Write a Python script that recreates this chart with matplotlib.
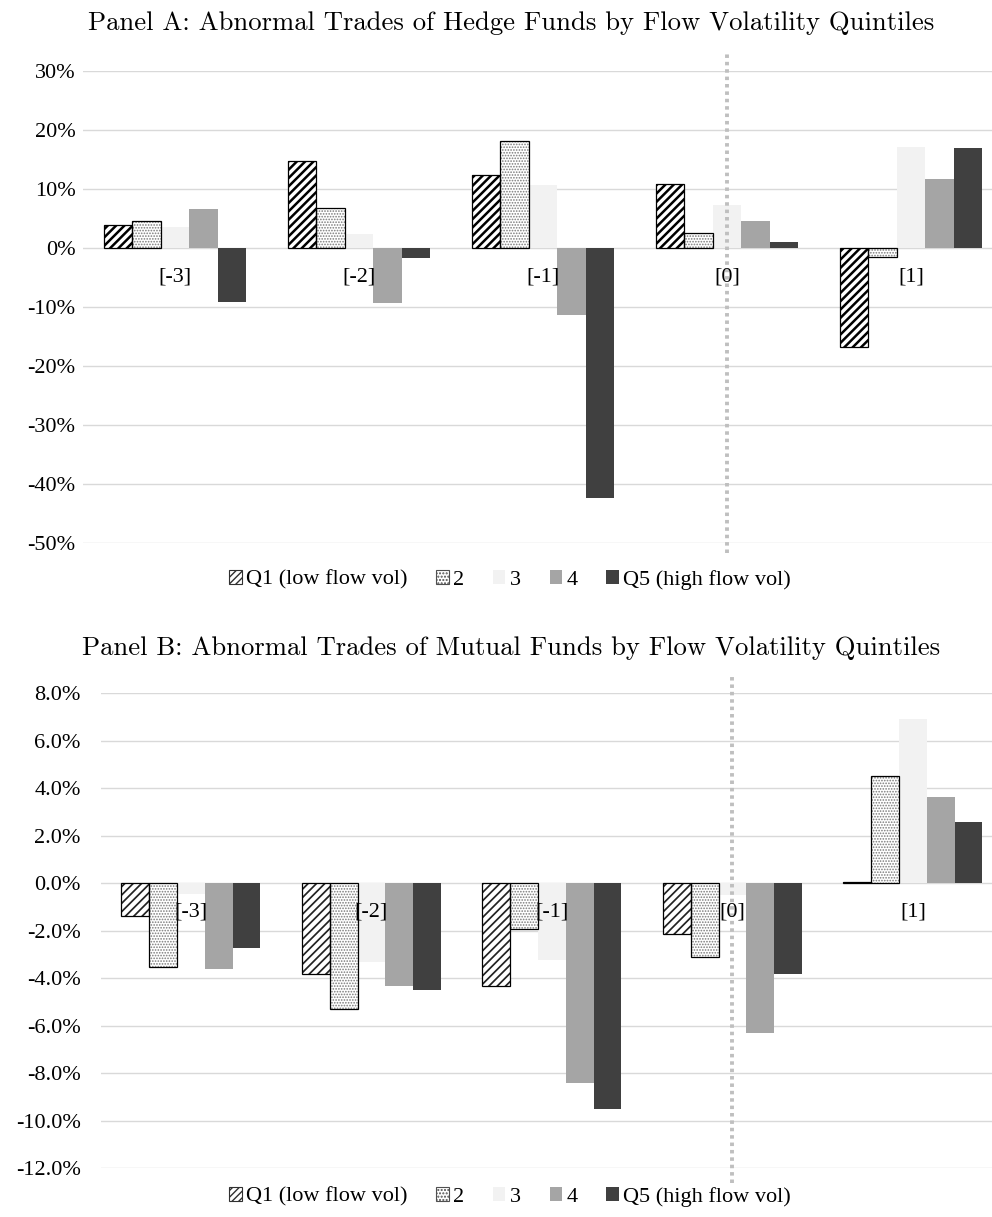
import numpy as np
import matplotlib
matplotlib.use('Agg')
import matplotlib.pyplot as plt
from matplotlib import ticker
from matplotlib.patches import Patch

# Categorias (trimestres em relação ao evento) e séries por quintil
categories = ['[-3]', '[-2]', '[-1]', '[0]', '[1]']
series_names = ['Q1 (low flow vol)', '2', '3', '4', 'Q5 (high flow vol)']

# Panel A: hedge funds (%)
hedge_q1 = [3.9, 14.7, 12.3, 10.8, -16.7]
hedge_q2 = [4.6, 6.7, 18.1, 2.5, -1.6]
hedge_q3 = [3.5, 2.4, 10.7, 7.2, 17.0]
hedge_q4 = [6.6, -9.4, -11.3, 4.5, 11.7]
hedge_q5 = [-9.2, -1.7, -42.3, 0.95, 16.9]

# Panel B: mutual funds (%)
mutual_q1 = [-1.36, -3.80, -4.31, -2.15, 0.04]
mutual_q2 = [-3.51, -5.28, -1.92, -3.10, 4.50]
mutual_q3 = [-0.46, -3.30, -3.24, -0.49, 6.90]
mutual_q4 = [-3.62, -4.31, -8.41, -6.30, 3.62]
mutual_q5 = [-2.74, -4.50, -9.52, -3.80, 2.57]

yticks_a = [30, 20, 10, 0, -10, -20, -30, -40, -50]
yticks_b = [8, 6, 4, 2, 0, -2, -4, -6, -8, -10, -12]

plt.rcParams['font.family'] = ['Liberation Serif', 'DejaVu Serif']

W, H = 992, 1217
fig = plt.figure(figsize=(W / 100, H / 100), dpi=100)


def draw_panel(ax, data, yticks, fmt, pad, vline, hatch_col, hatch_lw):
    x = np.arange(len(categories))
    bw = 0.154
    styles = [
        dict(facecolor='white', edgecolor=hatch_col, hatch='////'),
        dict(facecolor='white', edgecolor='#7a7a7a', hatch='......'),
        dict(facecolor='#f2f2f2', edgecolor='none'),
        dict(facecolor='#a5a5a5', edgecolor='none'),
        dict(facecolor='#404040', edgecolor='none'),
    ]
    for i, (vals, st) in enumerate(zip(data, styles)):
        pos = x + (i - 2) * bw
        b = ax.bar(pos, vals, width=bw, zorder=3, linewidth=0, **st)
        if st.get('hatch'):
            for p in b:
                if hasattr(p, 'set_hatch_linewidth'):
                    p.set_hatch_linewidth(hatch_lw if i == 0 else 0.8)
            # contorno preto por cima
            ax.bar(pos, vals, width=bw, facecolor='none', edgecolor='black',
                   linewidth=0.9, zorder=3.5)
    ax.set_ylim(yticks[-1], yticks[0])
    ax.set_yticks(yticks)
    ax.yaxis.set_major_formatter(ticker.FuncFormatter(lambda v, p: fmt.format(v)))
    ax.set_xticks([])
    for s in ax.spines.values():
        s.set_visible(False)
    ax.tick_params(axis='y', length=0, labelsize=16, pad=pad)
    ax.grid(axis='y', color='#d9d9d9', linewidth=1.0, zorder=0)
    ax.set_axisbelow(True)
    for i, c in enumerate(categories):
        ax.annotate(c, xy=(i, 0), xytext=(0, -21), textcoords='offset points',
                    ha='center', va='center', fontsize=16, zorder=5)
    ax.axvline(3, ymin=vline[0], ymax=vline[1], color='#bfbfbf', linewidth=2.8,
               linestyle=(0, (0.9, 1.0)), clip_on=False, zorder=4)


# Panel A
ax1 = fig.add_axes([83 / W, 1 - 543.3 / H, 1 - 83 / W, (543.3 - 70.6) / H])
draw_panel(ax1, [hedge_q1, hedge_q2, hedge_q3, hedge_q4, hedge_q5],
           yticks_a, '{:.0f}%', 5.5, (-0.02, 1.04), 'black', 1.8)
ax1.set_xlim(-0.5, -0.5 + (W - 83) / 184)

# Panel B
ax2 = fig.add_axes([100.7 / W, 1 - 1168.3 / H, 1 - 100.7 / W, (1168.3 - 693.3) / H])
draw_panel(ax2, [mutual_q1, mutual_q2, mutual_q3, mutual_q4, mutual_q5],
           yticks_b, '{:.1f}%', 14.5, (-0.03, 1.035), '#222222', 1.25)
ax2.set_xlim(-0.5, -0.5 + (W - 100.7) / 180.5)

fig.text(511 / W, 1 - 23 / H, 'Panel A: Abnormal Trades of Hedge Funds by Flow Volatility Quintiles',
         family='cmr10', fontsize=19.2, ha='center', va='center')
fig.text(511 / W, 1 - 648 / H, 'Panel B: Abnormal Trades of Mutual Funds by Flow Volatility Quintiles',
         family='cmr10', fontsize=19.2, ha='center', va='center')

# legenda com amostras quadradas
leg_handles = [
    Patch(facecolor='white', edgecolor='#303030', hatch='/////', linewidth=0.8),
    Patch(facecolor='white', edgecolor='#505050', hatch='.....', linewidth=0.8),
    Patch(facecolor='#f2f2f2', edgecolor='none'),
    Patch(facecolor='#a5a5a5', edgecolor='none'),
    Patch(facecolor='#404040', edgecolor='none'),
]
for yc in [580, 1197]:
    fig.legend(leg_handles, series_names, loc='center', bbox_to_anchor=(510 / W, 1 - yc / H),
               ncol=5, frameon=False, fontsize=16, handlelength=0.55, handleheight=0.55,
               handletextpad=0.2, columnspacing=1.3, borderaxespad=0)

fig.savefig('out.png', dpi=100)
